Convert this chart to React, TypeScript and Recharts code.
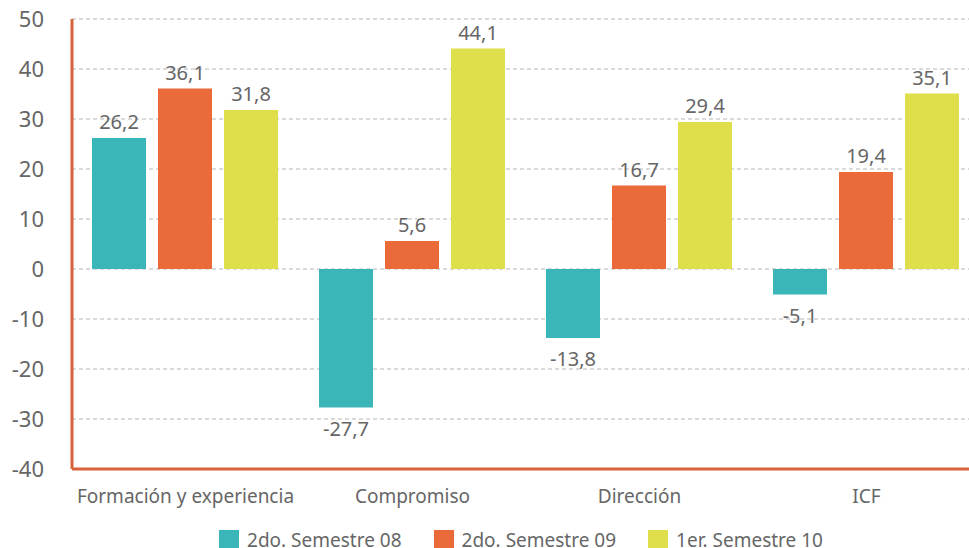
import { BarChart, Bar, XAxis, YAxis, CartesianGrid, Legend, LabelList, ReferenceLine } from 'recharts'

const categories = ['Formación y experiencia', 'Compromiso', 'Dirección', 'ICF']
const sem08 = [26.2, -27.7, -13.8, -5.1]
const sem09 = [36.1, 5.6, 16.7, 19.4]
const sem10 = [31.8, 44.1, 29.4, 35.1]
const yTicks = [-40, -30, -20, -10, 0, 10, 20, 30, 40, 50]

const series = [
  { key: 'sem08', name: '2do. Semestre 08', color: '#3AB5B8' },
  { key: 'sem09', name: '2do. Semestre 09', color: '#EA6B39' },
  { key: 'sem10', name: '1er. Semestre 10', color: '#DFDE4B' },
]

const data = categories.map((name, i) => ({
  name,
  sem08: sem08[i],
  sem09: sem09[i],
  sem10: sem10[i],
}))

const FONT = '"Noto Sans", sans-serif'
const TEXT = '#666666'
const AXIS = '#D8623B'

function fmt(v: number) {
  return v.toFixed(1).replace('.', ',')
}

function ValueLabel(props: any) {
  const { x, y, width, height, value } = props
  const neg = value < 0
  const cx = x + width / 2
  // negative bars: label goes under the bar end
  const top = Math.min(y, y + height)
  const bottom = Math.max(y, y + height)
  const ty = neg ? bottom + 28 : top - 9
  return (
    <text x={cx} y={ty} textAnchor="middle" fill={TEXT} fontSize={20} fontFamily={FONT}>
      {fmt(value)}
    </text>
  )
}

function LegendContent() {
  return (
    <div style={{ height: 34, display: 'flex', justifyContent: 'center', alignItems: 'flex-start', paddingTop: 16, paddingLeft: 62, boxSizing: 'border-box', fontFamily: FONT, fontSize: 19, color: TEXT }}>
      {series.map((s) => (
        <div key={s.key} style={{ display: 'flex', alignItems: 'center', margin: '0 16px', lineHeight: '20px' }}>
          <span style={{ width: 20, height: 20, background: s.color, display: 'inline-block', marginRight: 8 }} />
          <span>{s.name}</span>
        </div>
      ))}
    </div>
  )
}

export default function App() {
  return (
    <div style={{ position: 'absolute', left: 0, top: 0, width: 969, height: 548, overflow: 'hidden', background: '#fff' }}>
      <BarChart
        width={990}
        height={548}
        data={data}
        margin={{ top: 19, right: 10, left: 0, bottom: 0 }}
        barCategoryGap={20}
        barGap={12}
      >
        <CartesianGrid vertical={false} stroke="#b5b5b5" strokeDasharray="4 3" />
        <XAxis
          dataKey="name"
          height={45}
          axisLine={false}
          tickLine={false}
          tickSize={0}
          tickMargin={21}
          tick={{ fill: TEXT, fontSize: 19, fontFamily: FONT }}
          interval={0}
        />
        <YAxis
          width={72}
          domain={[-40, 50]}
          ticks={yTicks}
          axisLine={{ stroke: AXIS, strokeWidth: 3 }}
          tickLine={false}
          tickSize={0}
          tickMargin={28}
          tick={{ fill: TEXT, fontSize: 22, fontFamily: FONT }}
        />
        <ReferenceLine y={-40} stroke={AXIS} strokeWidth={3} />
        <Legend verticalAlign="bottom" height={34} content={<LegendContent />} />
        {series.map((s) => (
          <Bar key={s.key} dataKey={s.key} name={s.name} fill={s.color} isAnimationActive={false}>
            <LabelList dataKey={s.key} content={<ValueLabel />} />
          </Bar>
        ))}
      </BarChart>
    </div>
  )
}
